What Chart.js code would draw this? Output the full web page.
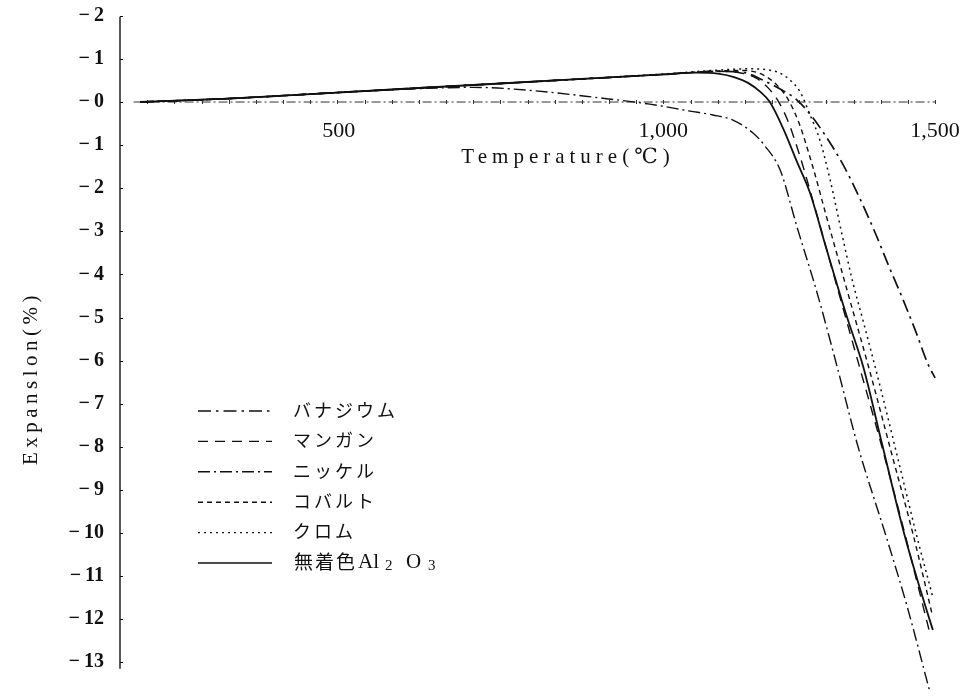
<!DOCTYPE html>
<html>
<head>
<meta charset="utf-8">
<script src="https://cdn.jsdelivr.net/npm/chart.js@4/dist/chart.umd.min.js"></script>
<style>
  html, body { margin: 0; padding: 0; background: #fff; }
  #wrap { width: 966px; height: 697px; }
</style>
</head>
<body>
<div id="wrap"><canvas id="c" width="966" height="697"></canvas></div>
<script>
// Thermal expansion (%) against temperature (°C) for pigmented alumina bodies
const seriesNames = ['バナジウム', 'マンガン', 'ニッケル', 'コバルト', 'クロム', '無着色Al₂O₃'];

const vanadiumT = [37, 200, 400, 600, 800, 1000, 1100, 1150, 1183, 1215, 1242, 1264, 1294, 1331, 1362, 1390, 1414, 1439, 1465, 1487, 1500];
const vanadiumE = [0, 0.08, 0.22, 0.36, 0.5, 0.64, 0.71, 0.68, 0.51, 0.30, 0.09, -0.19, -0.70, -1.46, -2.25, -3.04, -3.78, -4.52, -5.34, -6.08, -6.40];

const manganT = [37, 200, 400, 600, 800, 1000, 1100, 1140, 1170, 1192, 1210, 1228, 1250, 1280, 1320, 1360, 1400, 1440, 1490];
const manganE = [0, 0.08, 0.22, 0.36, 0.5, 0.64, 0.71, 0.68, 0.56, 0.34, 0.05, -0.40, -1.20, -2.50, -4.30, -6.10, -7.90, -9.80, -12.30];

const nickelT = [37, 200, 400, 550, 650, 755, 880, 975, 1049, 1091, 1128, 1165, 1187, 1215, 1246, 1283, 1320, 1357, 1412, 1449, 1491];
const nickelE = [0, 0.08, 0.22, 0.31, 0.34, 0.27, 0.10, -0.05, -0.21, -0.30, -0.42, -0.72, -1.02, -1.58, -2.90, -4.43, -6.15, -7.94, -10.16, -11.72, -13.71];

const cobaltT = [37, 200, 400, 600, 800, 1000, 1100, 1150, 1185, 1210, 1230, 1250, 1275, 1300, 1340, 1380, 1420, 1460, 1495];
const cobaltE = [0, 0.08, 0.22, 0.36, 0.5, 0.64, 0.72, 0.73, 0.62, 0.38, 0.05, -0.50, -1.50, -2.65, -4.45, -6.25, -8.15, -10.05, -11.90];

const chromT = [37, 200, 400, 600, 800, 1000, 1100, 1154, 1209, 1233, 1252, 1270, 1288, 1307, 1331, 1349, 1366, 1399, 1436, 1467, 1495];
const chromE = [0, 0.08, 0.22, 0.36, 0.5, 0.65, 0.74, 0.77, 0.70, 0.51, 0.23, -0.30, -0.88, -1.81, -3.20, -4.20, -5.00, -6.60, -8.50, -10.10, -11.44];

const plainT = [37, 200, 400, 600, 800, 1000, 1060, 1100, 1130, 1155, 1178, 1196, 1220, 1246, 1270, 1300, 1338, 1368, 1403, 1445, 1475, 1496];
const plainE = [0, 0.08, 0.22, 0.36, 0.5, 0.64, 0.68, 0.66, 0.58, 0.45, 0.24, 0, -0.60, -1.39, -2.11, -3.40, -4.99, -6.15, -7.96, -10.10, -11.40, -12.25];

const tempTicks = [500, 1000, 1500];
const tempTickLabels = ['500', '1,000', '1,500'];
const expTicks = [2, 1, 0, -1, -2, -3, -4, -5, -6, -7, -8, -9, -10, -11, -12, -13];

const SERIF = '"Liberation Serif", "DejaVu Serif", serif';
const JP = '"Noto Sans CJK JP", sans-serif';
const INK = '#111';

function pts(ts, es) { return ts.map((t, i) => ({ x: t, y: es[i] })); }

const styles = [
  { dash: [13, 5, 2.5, 5], width: 1.7 },   // バナジウム
  { dash: [10, 7], width: 1.4 },           // マンガン
  { dash: [12, 4, 2, 4], width: 1.4 },     // ニッケル
  { dash: [5, 4], width: 1.4 },            // コバルト
  { dash: [2, 4], width: 1.5 },            // クロム
  { dash: [], width: 1.8 }                 // 無着色
];
const seriesData = [
  pts(vanadiumT, vanadiumE), pts(manganT, manganE), pts(nickelT, nickelE),
  pts(cobaltT, cobaltE), pts(chromT, chromE), pts(plainT, plainE)
];

const datasets = seriesNames.map((name, i) => ({
  label: name,
  data: seriesData[i],
  borderColor: INK,
  borderWidth: styles[i].width,
  borderDash: styles[i].dash,
  borderCapStyle: 'butt',
  pointRadius: 0,
  fill: false,
  cubicInterpolationMode: 'monotone',
  clip: false
}));

function spacedText(ctx, text, x, y, spacing, align) {
  ctx.save();
  if ('letterSpacing' in ctx) ctx.letterSpacing = spacing + 'px';
  ctx.textAlign = align || 'left';
  ctx.fillText(text, x, y);
  ctx.restore();
}

const paperPlugin = {
  id: 'paper',
  beforeDraw(chart) {
    const ctx = chart.ctx;
    ctx.save();
    ctx.fillStyle = '#fff';
    ctx.fillRect(0, 0, chart.width, chart.height);
    ctx.restore();
  },
  beforeDatasetsDraw(chart) {
    const ctx = chart.ctx, xs = chart.scales.x, ys = chart.scales.y;
    const left = chart.chartArea.left;
    ctx.save();
    ctx.strokeStyle = INK;
    // vertical axis
    ctx.lineWidth = 1.4;
    ctx.beginPath();
    ctx.moveTo(left, ys.getPixelForValue(2) + 1);
    ctx.lineTo(left, ys.getPixelForValue(-13.15));
    ctx.stroke();
    ctx.lineWidth = 1;
    expTicks.forEach(v => {
      const y = Math.round(ys.getPixelForValue(v)) + 0.5;
      ctx.beginPath(); ctx.moveTo(left, y); ctx.lineTo(left + 3, y); ctx.stroke();
    });
    // horizontal axis along zero expansion
    const y0 = ys.getPixelForValue(0);
    ctx.strokeStyle = '#333';
    ctx.lineWidth = 1;
    ctx.setLineDash([9, 3, 2, 3]);
    ctx.beginPath();
    ctx.moveTo(xs.getPixelForValue(25), y0);
    ctx.lineTo(xs.getPixelForValue(1500), y0);
    ctx.stroke();
    ctx.setLineDash([]);
    for (let t = 50; t <= 1500; t += 50) {
      const x = Math.round(xs.getPixelForValue(t)) + 0.5;
      ctx.beginPath(); ctx.moveTo(x, y0 - 2); ctx.lineTo(x, y0 + 2); ctx.stroke();
    }
    ctx.restore();
  },
  afterDraw(chart) {
    const ctx = chart.ctx, xs = chart.scales.x, ys = chart.scales.y;
    ctx.save();
    ctx.fillStyle = INK;
    ctx.textBaseline = 'middle';
    // expansion tick labels
    ctx.font = 'bold 20px ' + SERIF;
    ctx.textAlign = 'right';
    expTicks.forEach(v => {
      ctx.fillText('\u2212\u2009' + Math.abs(v), 104, ys.getPixelForValue(v));
    });
    // temperature tick labels
    const y0 = ys.getPixelForValue(0);
    ctx.font = '22px ' + SERIF;
    ctx.textAlign = 'center';
    const nudge = { 500: -53 };
    tempTicks.forEach((t, i) => {
      ctx.fillText(tempTickLabels[i], xs.getPixelForValue(t) + (nudge[t] || 0), y0 + 29);
    });
    // axis titles
    ctx.font = '21px ' + SERIF;
    spacedText(ctx, 'Temperature(℃)', 568, 157, 5, 'center');
    ctx.save();
    ctx.translate(31, 378);
    ctx.rotate(-Math.PI / 2);
    spacedText(ctx, 'Expanslon(%)', 0, 0, 4.5, 'center');
    ctx.restore();
    // legend
    chart.data.datasets.forEach((ds, i) => {
      const y = 410 + i * 30.4;
      ctx.save();
      ctx.strokeStyle = INK;
      ctx.lineWidth = Math.min(ds.borderWidth, 1.4);
      ctx.setLineDash(ds.borderDash);
      ctx.beginPath(); ctx.moveTo(198, y + 1); ctx.lineTo(272, y + 1); ctx.stroke();
      ctx.restore();
      if (i < 5) {
        ctx.font = '18px ' + JP;
        spacedText(ctx, ds.label, 293, y, 3, 'left');
      } else {
        ctx.font = '19px ' + JP;
        spacedText(ctx, '無着色', 294, y, 2, 'left');
        ctx.font = '21px ' + SERIF;
        ctx.textAlign = 'left';
        ctx.fillText('Al', 358, y);
        ctx.font = '15px ' + SERIF;
        ctx.fillText('2', 385, y + 4);
        ctx.font = '21px ' + SERIF;
        ctx.fillText('O', 406, y);
        ctx.font = '15px ' + SERIF;
        ctx.fillText('3', 428, y + 4);
      }
    });
    ctx.restore();
  }
};

new Chart(document.getElementById('c'), {
  type: 'line',
  data: { datasets },
  options: {
    responsive: false,
    devicePixelRatio: 1,
    animation: false,
    layout: { padding: { left: 120, right: 0, top: 0, bottom: 0 } },
    plugins: { legend: { display: false }, tooltip: { enabled: false }, title: { display: false } },
    scales: {
      x: { type: 'linear', display: false, min: 0, max: 1557 },
      y: { type: 'linear', display: false, min: -13.805, max: 2.367 }
    }
  },
  plugins: [paperPlugin]
});
</script>
</body>
</html>
